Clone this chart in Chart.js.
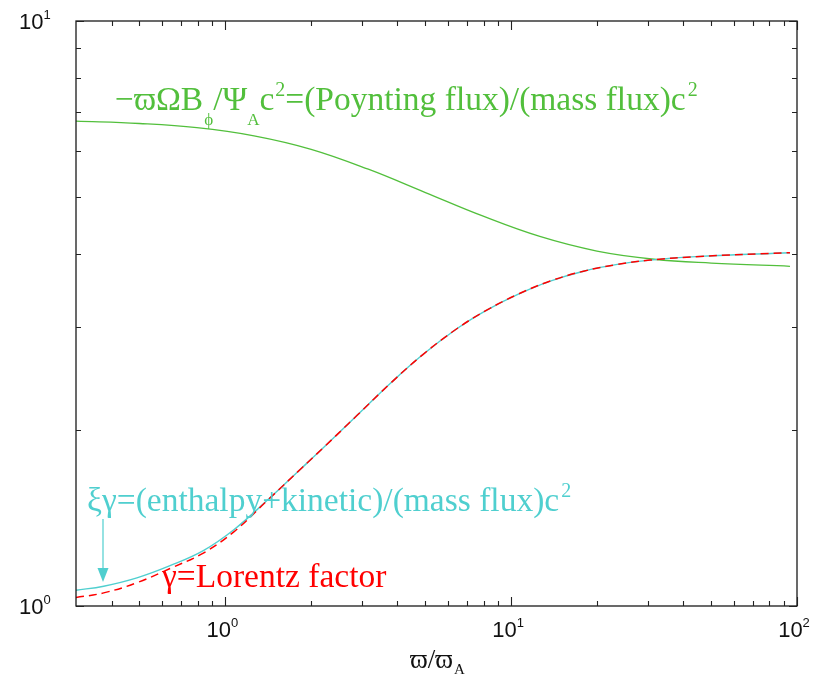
<!DOCTYPE html>
<html>
<head>
<meta charset="utf-8">
<script src="https://cdn.jsdelivr.net/npm/chart.js@4"></script>
<style>
  html, body { margin: 0; padding: 0; background: #ffffff; }
  #wrap { width: 827px; height: 681px; position: relative; }
</style>
</head>
<body>
<div id="wrap"><canvas id="chart" width="827" height="681"></canvas></div>
<script>
// Cylindrical radius in units of the Alfven radius
const enthalpyR = [0.30, 0.375, 0.49, 0.64, 0.84, 1.07, 1.40, 1.83, 2.20, 2.89, 3.78, 4.92, 6.47, 8.24, 10.5, 13.7, 17.9, 23.5, 30.6, 45.8, 94.5];
// (enthalpy + kinetic) energy flux per mass flux, xi*gamma
const enthalpyVals = [1.064, 1.081, 1.117, 1.172, 1.245, 1.350, 1.516, 1.713, 1.864, 2.118, 2.403, 2.693, 2.981, 3.208, 3.407, 3.593, 3.735, 3.836, 3.902, 3.959, 4.017];

// Lorentz factor gamma
const lorentzR = [0.30, 0.375, 0.49, 0.64, 0.84, 1.07, 1.40, 1.83, 2.20, 2.89, 3.78, 4.92, 6.47, 8.24, 10.5, 13.7, 17.9, 23.5, 30.6, 45.8, 94.5];
const lorentzVals = [1.034, 1.053, 1.096, 1.159, 1.233, 1.339, 1.514, 1.713, 1.864, 2.118, 2.403, 2.693, 2.981, 3.208, 3.407, 3.593, 3.735, 3.836, 3.902, 3.959, 4.017];

// Poynting flux per mass flux
const poyntingR = [0.30, 0.50, 0.794, 1.259, 1.995, 3.162, 5.01, 7.94, 12.59, 19.95, 31.6, 50.1, 94.5];
const poyntingVals = [6.742, 6.680, 6.573, 6.365, 6.036, 5.580, 5.090, 4.642, 4.282, 4.043, 3.915, 3.857, 3.808];

// Axis ranges and tick marks
const xRange = [0.3, 100];
const yRange = [1, 10];
const xMajorTicks = [1, 10, 100];
const xTickExponents = ['0', '1', '2'];
const xMinorTicks = [0.4, 0.5, 0.6, 0.7, 0.8, 0.9, 2, 3, 4, 5, 6, 7, 8, 9, 20, 30, 40, 50, 60, 70, 80, 90];
const yMajorTicks = [1, 10];
const yTickExponents = ['0', '1'];
const yMinorTicks = [2, 3, 4, 5, 6, 7, 8, 9];

const GREEN = '#52bf3c';
const CYAN = '#4fcfcf';
const RED = '#ff0000';
const SERIF = '"Liberation Serif", "Times New Roman", "DejaVu Serif", serif';
const SANS = '"Liberation Sans", Arial, Helvetica, sans-serif';

function toPoints(xs, ys) {
  return xs.map((x, i) => ({ x: x, y: ys[i] }));
}

// Draw a run of text pieces, some of them sub- or superscripted
function drawRich(ctx, x, y, parts, size, family, color, sub, sup) {
  ctx.fillStyle = color;
  ctx.textAlign = 'left';
  ctx.textBaseline = 'alphabetic';
  let cx = x;
  for (const p of parts) {
    let s = size, dy = 0;
    if (p.sub) { s = sub.size; dy = sub.dy; }
    if (p.sup) { s = sup.size; dy = sup.dy; }
    ctx.font = s + 'px ' + family;
    ctx.fillText(p.t, cx + (p.dx || 0), y + dy);
    cx += ctx.measureText(p.t).width + (p.dx || 0);
  }
  return cx;
}

function richWidth(ctx, parts, size, family, sub, sup) {
  let w = 0;
  for (const p of parts) {
    let s = size;
    if (p.sub) s = sub.size;
    if (p.sup) s = sup.size;
    ctx.font = s + 'px ' + family;
    w += ctx.measureText(p.t).width;
  }
  return w;
}

const framePlugin = {
  id: 'frameAndLabels',
  afterDatasetsDraw(chart) {
    const ctx = chart.ctx;
    const a = chart.chartArea;
    const xs = chart.scales.x;
    const ys = chart.scales.y;
    ctx.save();

    // Frame
    ctx.strokeStyle = '#1a1a1a';
    ctx.lineWidth = 1.3;
    ctx.strokeRect(a.left, a.top, a.right - a.left, a.bottom - a.top);

    // Inward tick marks on all four sides
    ctx.lineWidth = 1.1;
    ctx.strokeStyle = '#222222';
    ctx.beginPath();
    const xt = (v, len) => {
      const px = Math.round(xs.getPixelForValue(v)) + 0.5;
      ctx.moveTo(px, a.bottom); ctx.lineTo(px, a.bottom - len);
      ctx.moveTo(px, a.top); ctx.lineTo(px, a.top + len);
    };
    const yt = (v, len) => {
      const py = Math.round(ys.getPixelForValue(v)) + 0.5;
      ctx.moveTo(a.left, py); ctx.lineTo(a.left + len, py);
      ctx.moveTo(a.right, py); ctx.lineTo(a.right - len, py);
    };
    xMajorTicks.forEach(v => xt(v, 9));
    xMinorTicks.forEach(v => xt(v, 5));
    yMajorTicks.forEach(v => yt(v, 8));
    yMinorTicks.forEach(v => yt(v, 5));
    ctx.stroke();

    // Tick labels: powers of ten
    const tsub = { size: 13, dy: 0 };
    const tsup = { size: 13, dy: -10 };
    xMajorTicks.forEach((v, i) => {
      const parts = [{ t: '10' }, { t: xTickExponents[i], sup: true }];
      const w = richWidth(ctx, parts, 22, SANS, tsub, tsup);
      const px = xs.getPixelForValue(v);
      drawRich(ctx, px - w / 2 - 3, a.bottom + 31, parts, 22, SANS, '#111111', tsub, tsup);
    });
    yMajorTicks.forEach((v, i) => {
      const parts = [{ t: '10' }, { t: yTickExponents[i], sup: true }];
      const py = ys.getPixelForValue(v);
      drawRich(ctx, 19, py + 8, parts, 22, SANS, '#111111', tsub, tsup);
    });

    // Axis title
    drawRich(ctx, 410, 668,
      [{ t: 'ϖ/ϖ' }, { t: 'A', sub: true, dx: 1 }],
      27, SERIF, '#111111', { size: 15, dy: 6 }, { size: 15, dy: -10 });

    // Curve annotations
    const big = 33.5;
    const sub = { size: 17, dy: 15 };
    const sup = { size: 20, dy: -14 };
    drawRich(ctx, 115, 110, [
      { t: '−ϖΩB' }, { t: 'ϕ', sub: true, dx: 1 }, { t: '/Ψ' }, { t: 'A', sub: true },
      { t: 'c' }, { t: '2', sup: true, dx: 1 },
      { t: '=(Poynting flux)/(mass flux)c' }, { t: '2', sup: true, dx: 2 }
    ], big, SERIF, GREEN, sub, sup);

    drawRich(ctx, 87, 511, [
      { t: 'ξγ=(enthalpy+kinetic)/(mass flux)c' }, { t: '2', sup: true, dx: 2 }
    ], big, SERIF, CYAN, sub, sup);

    drawRich(ctx, 162, 587, [{ t: 'γ=Lorentz factor' }], big, SERIF, RED, sub, sup);

    // Arrow from the xi*gamma label down to its curve
    ctx.strokeStyle = CYAN;
    ctx.fillStyle = CYAN;
    ctx.lineWidth = 1.2;
    ctx.beginPath();
    ctx.moveTo(103, 519); ctx.lineTo(103, 570);
    ctx.stroke();
    ctx.beginPath();
    ctx.moveTo(97.5, 568); ctx.lineTo(108.5, 568); ctx.lineTo(103, 582);
    ctx.closePath();
    ctx.fill();

    ctx.restore();
  }
};

new Chart(document.getElementById('chart'), {
  type: 'line',
  data: {
    datasets: [
      {
        label: 'gamma',
        data: toPoints(lorentzR, lorentzVals),
        borderColor: RED,
        borderWidth: 1.5,
        borderDash: [8, 5],
        pointRadius: 0,
        fill: false,
        tension: 0.4,
        order: 0
      },
      {
        label: 'xi gamma',
        data: toPoints(enthalpyR, enthalpyVals),
        borderColor: CYAN,
        borderWidth: 1.4,
        pointRadius: 0,
        fill: false,
        tension: 0.4,
        order: 1
      },
      {
        label: 'Poynting',
        data: toPoints(poyntingR, poyntingVals),
        borderColor: GREEN,
        borderWidth: 1.3,
        pointRadius: 0,
        fill: false,
        tension: 0.4,
        order: 2
      }
    ]
  },
  options: {
    responsive: false,
    animation: false,
    devicePixelRatio: 1,
    layout: { padding: { left: 76, top: 21, right: 30, bottom: 75 } },
    plugins: { legend: { display: false }, tooltip: { enabled: false } },
    scales: {
      x: { type: 'logarithmic', min: xRange[0], max: xRange[1], display: false },
      y: { type: 'logarithmic', min: yRange[0], max: yRange[1], display: false }
    }
  },
  plugins: [framePlugin]
});
</script>
</body>
</html>
